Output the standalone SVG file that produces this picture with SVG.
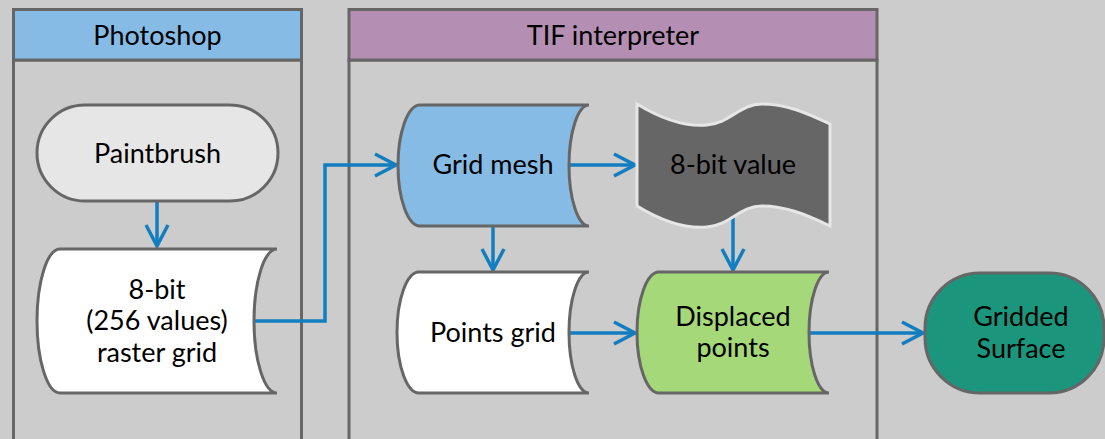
<svg xmlns="http://www.w3.org/2000/svg" width="1105" height="439" viewBox="0 0 1105 439">
<defs>
<style>
.lane{fill:#cccccc;stroke:#666666;stroke-width:3}
.hdr{stroke:#666666;stroke-width:3}
.node{stroke:#666666;stroke-width:3}
.t{font-family:Lato,"Open Sans",sans-serif;font-size:27px;fill:#000000;text-anchor:middle}
.c{fill:none;stroke:#127ec0;stroke-width:3.5}
</style>
<marker id="arr" viewBox="-24 -14 28 28" markerWidth="28" markerHeight="28" refX="0" refY="0" orient="auto" markerUnits="userSpaceOnUse">
<path d="M-21,-11 L0,0 L-21,11" fill="none" stroke="#127ec0" stroke-width="3.5"/>
</marker>
</defs>
<rect width="1105" height="439" fill="#cccccc"/>
<g id="lane-photoshop">
<rect class="lane" x="13.5" y="60" width="288" height="400"/>
<rect class="hdr" x="13.5" y="9.5" width="288" height="50.5" fill="#85bbe5"/>
<text class="t" x="157.5" y="45">Photoshop</text>
</g>
<g id="lane-tif">
<rect class="lane" x="349" y="60" width="528" height="400"/>
<rect class="hdr" x="349" y="9.5" width="528" height="50.5" fill="#b48fb3"/>
<text class="t" x="613" y="45">TIF interpreter</text>
</g>
<g id="connectors">
<path class="c" d="M157,201 V246" marker-end="url(#arr)"/>
<path class="c" d="M254,321 H325 V165 H396" marker-end="url(#arr)"/>
<path class="c" d="M570,165 H635" marker-end="url(#arr)"/>
<path class="c" d="M493,226 V270" marker-end="url(#arr)"/>
<path class="c" d="M733,214 V270" marker-end="url(#arr)"/>
<path class="c" d="M570,333 H635" marker-end="url(#arr)"/>
<path class="c" d="M810,333 H923" marker-end="url(#arr)"/>
</g>
<g id="node-paintbrush">
<rect class="node" x="37" y="105" width="241" height="96" rx="48" ry="48" fill="#e6e6e6"/>
<text class="t" x="157.5" y="163">Paintbrush</text>
</g>
<g id="node-raster">
<path class="node" fill="#ffffff" d="M60,249 H277 A23,72 0 0 0 277,393 H60 A23,72 0 0 1 60,249 Z"/>
<text class="t" x="157" y="299">8-bit</text>
<text class="t" x="157" y="330">(256 values)</text>
<text class="t" x="157" y="362">raster grid</text>
</g>
<g id="node-gridmesh">
<path class="node" fill="#85bbe5" d="M420,105 H589 A20,60.5 0 0 0 589,226 H420 A22,60.5 0 0 1 420,105 Z"/>
<text class="t" x="493" y="174">Grid mesh</text>
</g>
<g id="node-8bitvalue">
<path fill="#666666" stroke="#e6e6e6" stroke-width="3" d="M637,104 C660,118 685,127 707,125 C730,123 740,104 762,104 C785,104 805,112 830,124 V226 C805,214 785,206 762,206 C740,206 730,225 707,227 C685,229 660,220 637,206 Z"/>
<text class="t" x="733" y="174">8-bit value</text>
</g>
<g id="node-pointsgrid">
<path class="node" fill="#ffffff" d="M419,272 H589 A20,60.5 0 0 0 589,393 H419 A22,60.5 0 0 1 419,272 Z"/>
<text class="t" x="493" y="342">Points grid</text>
</g>
<g id="node-displaced">
<path class="node" fill="#a5d878" d="M659,272 H829 A20,60.5 0 0 0 829,393 H659 A22,60.5 0 0 1 659,272 Z"/>
<text class="t" x="733" y="326">Displaced</text>
<text class="t" x="733" y="357">points</text>
</g>
<g id="node-gridded">
<rect class="node" x="925" y="273" width="179" height="120" rx="55" ry="55" fill="#1b967c"/>
<text class="t" x="1021" y="326">Gridded</text>
<text class="t" x="1021" y="358">Surface</text>
</g>
</svg>
